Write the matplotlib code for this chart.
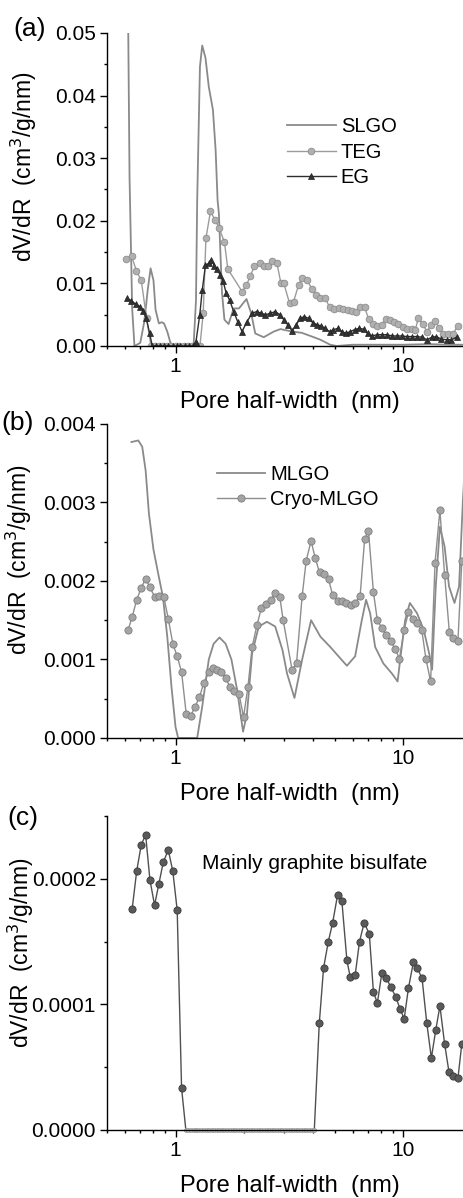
import matplotlib
matplotlib.use("Agg")
import matplotlib.pyplot as plt
from matplotlib.ticker import LogLocator, FixedLocator, FormatStrFormatter, NullFormatter, MultipleLocator

plt.rcParams['font.family'] = ['Liberation Sans', 'DejaVu Sans']

# ---- panel (a) ----
slgo_x = [0.615, 0.62, 0.628, 0.645, 0.66, 0.70, 0.73, 0.755, 0.777, 0.80, 0.817, 0.845, 0.87,
          0.89, 0.92, 0.95, 0.98, 1.05, 1.12, 1.2, 1.23, 1.245, 1.28, 1.31, 1.354, 1.4, 1.46,
          1.5, 1.53, 1.55, 1.6, 1.64, 1.71, 1.8, 1.9, 2.05, 2.15, 2.24, 2.44, 2.7, 2.89, 3.25,
          3.59, 3.98, 4.33, 4.78, 5.1, 6.0, 8.0, 10.0, 13.0, 16.0, 18.5]
slgo_y = [0.07, 0.05, 0.027, 0.006, 0.0, 0.0005, 0.004, 0.009, 0.0124, 0.0105, 0.0058, 0.0036, 0.0038,
          0.0036, 0.0023, 0.0005, 0.0, 0.0, 0.0, 0.0, 0.0073, 0.0233, 0.0446, 0.048, 0.046, 0.0414, 0.0377,
          0.0313, 0.0233, 0.0212, 0.0085, 0.0042, 0.0035, 0.006, 0.006, 0.0075, 0.0052, 0.002, 0.0014, 0.0023, 0.0027, 0.0023,
          0.0021, 0.0015, 0.001, 0.0002, 0.0, 0.0002, 0.0002, 0.0002, 0.0003, 0.0002, 0.0002]

teg_x = [0.604, 0.641, 0.673, 0.707, 0.746, 0.78, 0.81, 0.845, 0.88, 0.92, 0.96, 1.0, 1.04, 1.09,
         1.135, 1.185, 1.235, 1.28, 1.323, 1.36, 1.424, 1.493, 1.555, 1.64, 1.697, 1.96, 2.05,
         2.13, 2.22, 2.34, 2.44, 2.56, 2.65, 2.79, 2.9, 2.99, 3.17, 3.3, 3.47, 3.59, 3.78, 3.98,
         4.15, 4.33, 4.54, 4.75, 4.97, 5.2, 5.44, 5.7, 5.95, 6.22, 6.47, 6.77, 7.05, 7.37, 7.68,
         8.06, 8.4, 8.78, 9.12, 9.52, 9.95, 10.4, 10.9, 11.3, 11.66, 12.2, 12.7, 13.3, 13.8, 14.4,
         15.0, 15.8, 16.5, 17.4]
teg_y = [0.0139, 0.0144, 0.012, 0.0105, 0.0044, 0.0, 0.0, 0.0, 0.0, 0.0, 0.0, 0.0, 0.0, 0.0,
         0.0, 0.0, 0.0, 0.0, 0.0052, 0.0172, 0.0215, 0.0201, 0.0188, 0.0166, 0.0123, 0.0087, 0.0097,
         0.0112, 0.0127, 0.0132, 0.0127, 0.0127, 0.0136, 0.0132, 0.0101, 0.01, 0.0068, 0.0071, 0.0097, 0.0108, 0.0105, 0.0091,
         0.0081, 0.0077, 0.0077, 0.0062, 0.0059, 0.006, 0.0059, 0.0058, 0.0056, 0.0055, 0.0062, 0.0062, 0.0043, 0.0035, 0.0032,
         0.0034, 0.0043, 0.0042, 0.0039, 0.0035, 0.0031, 0.0027, 0.0027, 0.0026, 0.0044, 0.0035, 0.0023, 0.0034, 0.004, 0.0029,
         0.0019, 0.0019, 0.0019, 0.0032]

eg_x = [0.61, 0.64, 0.668, 0.697, 0.72, 0.744, 0.77, 0.79, 0.82, 0.855, 0.89, 0.93, 0.97, 1.01,
        1.05, 1.10, 1.15, 1.19, 1.23, 1.278, 1.31, 1.354, 1.4, 1.438, 1.48, 1.52, 1.575, 1.62,
        1.67, 1.73, 1.8, 1.875, 1.96, 2.06, 2.17, 2.27, 2.38, 2.48, 2.61, 2.74, 2.87, 2.99, 3.11,
        3.25, 3.39, 3.53, 3.68, 3.84, 4.01, 4.18, 4.36, 4.54, 4.75, 4.94, 5.15, 5.38, 5.62, 5.85,
        6.12, 6.38, 6.7, 6.98, 7.29, 7.68, 8.06, 8.5, 8.93, 9.38, 9.85, 10.4, 10.9, 11.5, 12.1,
        12.7, 13.4, 14.0, 14.7, 15.5, 16.3, 17.2]
eg_y = [0.0076, 0.0072, 0.0067, 0.0063, 0.0056, 0.0044, 0.002, 0.0, 0.0, 0.0, 0.0, 0.0, 0.0, 0.0,
        0.0, 0.0, 0.0, 0.0, 0.0007, 0.005, 0.0089, 0.0129, 0.0132, 0.0138, 0.0128, 0.0123, 0.0113, 0.0103,
        0.0084, 0.0073, 0.0055, 0.0039, 0.0023, 0.0039, 0.0052, 0.0055, 0.0052, 0.005, 0.0052, 0.0055, 0.005, 0.0042, 0.0034,
        0.0024, 0.0034, 0.0044, 0.0047, 0.0044, 0.0037, 0.0034, 0.0032, 0.0028, 0.0023, 0.0026, 0.0028, 0.0023, 0.002, 0.0023,
        0.0026, 0.0028, 0.0027, 0.002, 0.0016, 0.0018, 0.0018, 0.0018, 0.0016, 0.0016, 0.0016, 0.0015, 0.0015, 0.0015, 0.0014,
        0.001, 0.0014, 0.0015, 0.0011, 0.001, 0.001, 0.0014]

# ---- panel (b) ----
mlgo_x = [0.64, 0.686, 0.714, 0.739, 0.764, 0.80, 0.845, 0.88, 0.92, 0.96, 1.0, 1.027, 1.245,
          1.31, 1.4, 1.47, 1.56, 1.66, 1.76, 1.865, 1.98, 2.06, 2.17, 2.32, 2.52, 2.74, 2.95,
          3.09, 3.33, 3.6, 3.94, 4.33, 4.78, 5.2, 5.66, 6.15, 6.58, 6.87, 7.16, 7.53, 8.18, 8.93,
          9.45, 9.78, 10.2, 10.7, 11.5, 12.3, 13.0, 13.4, 13.9, 14.5, 15.2, 15.9, 16.8, 17.6, 18.3, 18.6]
mlgo_y = [0.00377, 0.00379, 0.00371, 0.00341, 0.00286, 0.0024, 0.00205, 0.0018, 0.00129, 0.00065, 0.00014, 0.0, 0.0,
          0.0004, 0.001, 0.0012, 0.00128, 0.0012, 0.001, 0.00061, 0.00008, 0.00031, 0.00108, 0.00142, 0.00148, 0.00142, 0.00112,
          0.00082, 0.00051, 0.001, 0.0015, 0.00129, 0.00116, 0.00104, 0.00092, 0.00104, 0.0015, 0.00176, 0.00159, 0.00116, 0.00095, 0.00082,
          0.00072, 0.00108, 0.0015, 0.00172, 0.00159, 0.00138, 0.00108, 0.00087, 0.00193, 0.00269, 0.00244, 0.00193, 0.00172, 0.00193, 0.00303, 0.0034]

cryo_x = [0.618, 0.645, 0.675, 0.707, 0.739, 0.772, 0.809, 0.845, 0.889, 0.929, 0.973, 1.017, 1.063,
          1.114, 1.164, 1.215, 1.274, 1.33, 1.4, 1.46, 1.52, 1.59, 1.66, 1.73, 1.81, 1.9, 1.99, 2.08,
          2.17, 2.28, 2.38, 2.5, 2.63, 2.74, 2.87, 2.97, 3.25, 3.4, 3.6, 3.75, 3.94, 4.11, 4.29, 4.5,
          4.7, 4.9, 5.15, 5.38, 5.62, 5.89, 6.15, 6.47, 6.77, 7.04, 7.4, 7.7, 8.06, 8.42, 8.82, 9.22,
          9.63, 10.1, 10.55, 11.0, 11.5, 12.06, 12.6, 13.2, 13.8, 14.5, 15.2, 15.95, 16.6, 17.4, 18.1]
cryo_y = [0.00137, 0.00154, 0.00176, 0.00191, 0.00203, 0.00192, 0.0018, 0.00181, 0.00179, 0.00152, 0.0012, 0.00104, 0.00084,
          0.00031, 0.00028, 0.00039, 0.00052, 0.0007, 0.00084, 0.00089, 0.00087, 0.00084, 0.00077, 0.00065, 0.0006, 0.00056, 0.00027, 0.00065,
          0.00116, 0.00144, 0.00165, 0.00171, 0.00176, 0.00185, 0.0018, 0.0015, 0.00087, 0.00095, 0.00181, 0.00226, 0.00251, 0.00229, 0.00211, 0.00209,
          0.00202, 0.00182, 0.00174, 0.00174, 0.00172, 0.0017, 0.00172, 0.00181, 0.00253, 0.00264, 0.00186, 0.0015, 0.0014, 0.00131, 0.00124, 0.00113,
          0.00101, 0.00138, 0.0016, 0.00152, 0.00147, 0.00138, 0.001, 0.00072, 0.00223, 0.0029, 0.00208, 0.00135, 0.00127, 0.00124, 0.00225]

# ---- panel (c) ----
gbs_x = [0.645, 0.675, 0.707, 0.739, 0.772, 0.809, 0.845, 0.883, 0.929, 0.973, 1.017, 1.063,
         1.11, 1.14, 1.17, 1.20, 1.23, 1.26, 1.30, 1.33, 1.37, 1.40, 1.44, 1.48, 1.52, 1.56, 1.60,
         1.64, 1.69, 1.73, 1.78, 1.83, 1.88, 1.93, 1.98, 2.03, 2.09, 2.14, 2.20, 2.26, 2.32, 2.38,
         2.45, 2.51, 2.58, 2.65, 2.72, 2.80, 2.87, 2.95, 3.03, 3.11, 3.20, 3.28, 3.37, 3.46, 3.56,
         3.65, 3.75, 3.85, 3.96, 4.07,
         4.28, 4.47, 4.69, 4.9, 5.15, 5.38, 5.66, 5.85, 6.15, 6.43, 6.74, 7.1, 7.4, 7.7, 8.06, 8.42,
         8.82, 9.27, 9.69, 10.1, 10.55, 11.1, 11.5, 12.1, 12.7, 13.3, 13.9, 14.5, 15.2, 15.9, 16.6,
         17.4, 18.1]
gbs_y = [0.000176, 0.000206, 0.000227, 0.000235, 0.000199, 0.000179, 0.000196, 0.000213, 0.000223, 0.000206, 0.000175, 0.0000333,
         0.0, 0.0, 0.0, 0.0, 0.0, 0.0, 0.0, 0.0, 0.0, 0.0, 0.0, 0.0, 0.0, 0.0, 0.0,
         0.0, 0.0, 0.0, 0.0, 0.0, 0.0, 0.0, 0.0, 0.0, 0.0, 0.0, 0.0, 0.0, 0.0, 0.0,
         0.0, 0.0, 0.0, 0.0, 0.0, 0.0, 0.0, 0.0, 0.0, 0.0, 0.0, 0.0, 0.0, 0.0, 0.0,
         0.0, 0.0, 0.0, 0.0, 0.0,
         0.0000848, 0.000129, 0.00015, 0.000165, 0.000187, 0.000182, 0.000135, 0.000122, 0.000123, 0.00015, 0.000165, 0.000156, 0.00011, 0.000101, 0.000125, 0.000121,
         0.000114, 0.000106, 0.0000965, 0.0000885, 0.000113, 0.000134, 0.000129, 0.000121, 0.0000848, 0.0000573, 0.0000795, 0.0000987, 0.0000688, 0.0000459, 0.0000427,
         0.0000413, 0.0000688]

xlim = (0.5, 18.5)
tick_fs = 15
label_fs = 16.5

fig = plt.figure(figsize=(4.64, 11.98), dpi=100)
ax_a = fig.add_axes([0.2306, 0.7112, 0.7694, 0.2613])
ax_b = fig.add_axes([0.2306, 0.3840, 0.7694, 0.2621])
ax_c = fig.add_axes([0.2306, 0.0568, 0.7694, 0.2621])


def style_axes(ax, ymax, ystep, fmt):
    ax.set_xscale('log')
    ax.set_xlim(*xlim)
    ax.set_ylim(0, ymax)
    ax.spines['top'].set_visible(False)
    ax.spines['right'].set_visible(False)
    for s in ('left', 'bottom'):
        ax.spines[s].set_linewidth(1.0)
    ax.xaxis.set_major_locator(FixedLocator([1, 10]))
    ax.xaxis.set_major_formatter(FormatStrFormatter('%g'))
    ax.xaxis.set_minor_locator(LogLocator(base=10, subs=range(2, 10)))
    ax.xaxis.set_minor_formatter(NullFormatter())
    ax.yaxis.set_major_locator(MultipleLocator(ystep))
    ax.yaxis.set_minor_locator(MultipleLocator(ystep / 2))
    ax.yaxis.set_major_formatter(FormatStrFormatter(fmt))
    ax.tick_params(which='major', direction='out', length=5, width=1.0, labelsize=tick_fs, pad=3)
    ax.tick_params(which='minor', direction='out', length=2.5, width=1.0)
    ax.set_xlabel('Pore half-width  (nm)', fontsize=17)
    ax.xaxis.set_label_coords(0.513, -0.145)
    ax.set_ylabel('dV/dR  (cm$^3$/g/nm)', fontsize=label_fs)


# (a)
ax_a.plot(slgo_x, slgo_y, color='#8a8a8a', lw=1.3, label='SLGO')
ax_a.plot(teg_x, teg_y, color='#9c9c9c', lw=1.0, marker='o', ms=4.8,
          mfc='#b0b0b0', mec='#8e8e8e', mew=0.6, label='TEG')
ax_a.plot(eg_x, eg_y, color='#2e2e2e', lw=1.0, marker='^', ms=4.8,
          mfc='#333333', mec='#222222', mew=0.5, label='EG')
style_axes(ax_a, 0.05, 0.01, '%.2f')
ax_a.yaxis.set_label_coords(-0.19, 0.573)
ax_a.legend(loc='upper left', bbox_to_anchor=(0.505, 0.73), frameon=False, fontsize=14.5,
            handlelength=2.4, handletextpad=0.25, labelspacing=0.32, borderpad=0, borderaxespad=0)

# (b)
ax_b.plot(mlgo_x, mlgo_y, color='#8a8a8a', lw=1.3, label='MLGO')
ax_b.plot(cryo_x, cryo_y, color='#8e8e8e', lw=1.0, marker='o', ms=5.2,
          mfc='#a4a4a4', mec='#7e7e7e', mew=0.6, label='Cryo-MLGO')
style_axes(ax_b, 0.004, 0.001, '%.3f')
ax_b.yaxis.set_label_coords(-0.205, 0.567)
ax_b.legend(loc='upper left', bbox_to_anchor=(0.308, 0.87), frameon=False, fontsize=14.5,
            handlelength=2.4, handletextpad=0.25, labelspacing=0.32, borderpad=0, borderaxespad=0)

# (c)
nz = [i for i, v in enumerate(gbs_y) if v > 0]
zz = [i for i, v in enumerate(gbs_y) if v == 0]
ax_c.plot(gbs_x, gbs_y, color='#505050', lw=1.0)
ax_c.plot([gbs_x[i] for i in zz], [gbs_y[i] for i in zz], ls='none', marker='o', ms=3,
          mfc='#c8c8c8', mec='#9a9a9a', mew=0.5, clip_on=False)
ax_c.plot([gbs_x[i] for i in nz], [gbs_y[i] for i in nz], ls='none', marker='o', ms=5.2,
          mfc='#5a5a5a', mec='#3a3a3a', mew=0.6)
style_axes(ax_c, 0.00025, 0.0001, '%.4f')
ax_c.yaxis.set_label_coords(-0.20, 0.564)
ax_c.text(0.266, 0.847, 'Mainly graphite bisulfate', transform=ax_c.transAxes,
          fontsize=15, ha='left', va='center')

fig.text(0.028, 0.9762, '(a)', fontsize=19, va='center', ha='left')
fig.text(0.004, 0.6473, '(b)', fontsize=19, va='center', ha='left')
fig.text(0.015, 0.3172, '(c)', fontsize=19, va='center', ha='left')

fig.savefig('out.png', dpi=100)
